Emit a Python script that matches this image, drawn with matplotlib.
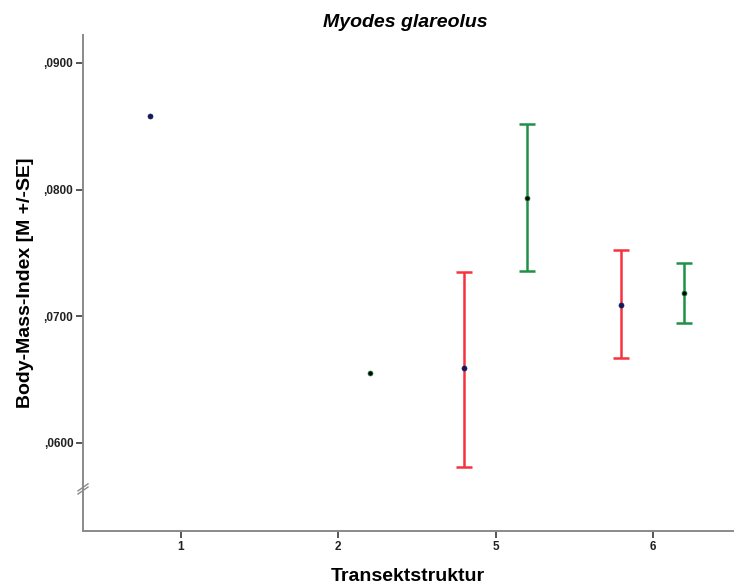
import numpy as np
import matplotlib
matplotlib.use("Agg")
import matplotlib.pyplot as plt
from matplotlib.ticker import FuncFormatter

plt.rcParams['font.family'] = ['Liberation Sans', 'DejaVu Sans']

categories = ["1", "2", "5", "6"]

# red group (blue dots)
red_mean = [0.0858, np.nan, 0.0659, 0.0709]
red_low = [np.nan, np.nan, 0.0581, 0.0667]
red_high = [np.nan, np.nan, 0.0735, 0.0752]

# green group (black dots)
green_mean = [np.nan, 0.0655, 0.0793, 0.0718]
green_low = [np.nan, np.nan, 0.0736, 0.0695]
green_high = [np.nan, np.nan, 0.0852, 0.0742]

yticks = [0.06, 0.07, 0.08, 0.09]

fig = plt.figure(figsize=(7.34, 5.87), dpi=100)
ax = fig.add_axes([83 / 734, 56 / 587, 650 / 734, 496 / 587])

x = np.arange(len(categories))
off = 0.2
red_c = '#f5333f'
green_c = '#1e9146'

for xs, m, lo, hi, col, dot in [
    (x - off, red_mean, red_low, red_high, red_c, '#101a5c'),
    (x + off, green_mean, green_low, green_high, green_c, '#000000'),
]:
    m = np.array(m); lo = np.array(lo); hi = np.array(hi)
    has = ~np.isnan(lo)
    ax.errorbar(xs[has], m[has], yerr=[m[has] - lo[has], hi[has] - m[has]],
                fmt='none', ecolor=col, elinewidth=1.8, capsize=5.5, capthick=1.8, zorder=2)
    ok = ~np.isnan(m)
    ax.plot(xs[ok], m[ok], 'o', ms=3.6, mfc=dot, mec=col if col == green_c else dot,
            mew=0.5, zorder=3)

ax.set_xlim(-0.623, 3.51)
ax.set_ylim(0.05305, 0.0922)
ax.set_xticks(x)
ax.set_xticklabels(categories)
ax.set_yticks(yticks)
ax.yaxis.set_major_formatter(
    FuncFormatter(lambda v, p: ("%.4f" % v).lstrip('0').replace('.', ',')))

for s in ['top', 'right']:
    ax.spines[s].set_visible(False)
for s in ['left', 'bottom']:
    ax.spines[s].set_color('#8a8a8a')
    ax.spines[s].set_linewidth(1.4)

ax.tick_params(axis='both', direction='out', length=5, width=1.4, color='#555555',
               labelsize=8.5, pad=2)
for lab in ax.get_xticklabels() + ax.get_yticklabels():
    lab.set_fontweight('bold')
    lab.set_color('#222222')

# axis break marker
yb = 0.06 - 46 / 12670
hx = 5 / 650
hy = 3.5 / 12670
for dy in (-1.6 / 12670, 1.6 / 12670):
    ax.plot([-hx, hx], [yb + dy - hy, yb + dy + hy], color='#8a8a8a',
            lw=1.0, transform=ax.get_yaxis_transform(), clip_on=False)

ax.set_ylabel("Body-Mass-Index [M +/-SE]", fontsize=14, fontweight='bold', labelpad=7)
ax.set_xlabel("Transektstruktur", fontsize=14, fontweight='bold', labelpad=11)
fig.text(0.552, 0.962, "Myodes glareolus", ha='center', va='center', fontsize=14,
         fontweight='bold', fontstyle='italic')

fig.savefig("out.png", dpi=100)
